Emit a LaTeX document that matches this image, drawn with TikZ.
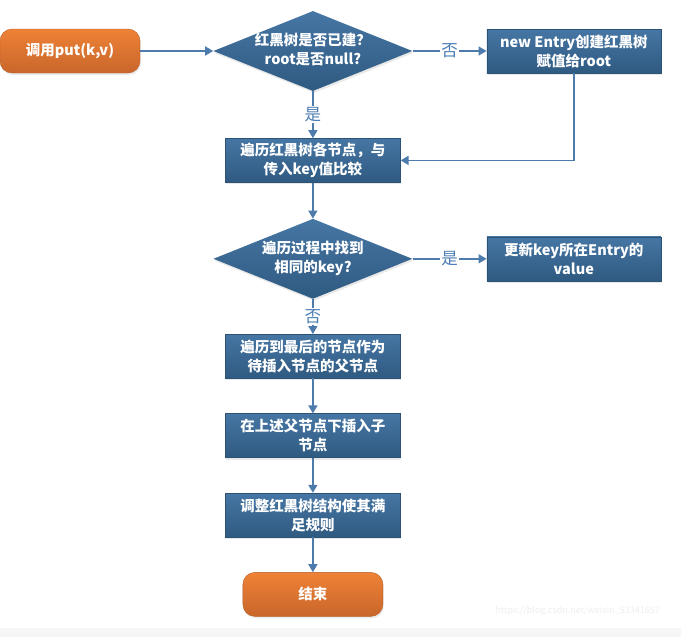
\documentclass[tikz,border=0pt]{standalone}
\usepackage{fontspec}
\setmainfont{Noto Sans CJK SC}
\usepackage{tikz}
\usetikzlibrary{arrows.meta,positioning,shapes.geometric,shadows}
\definecolor{boxtop}{HTML}{4676A4}
\definecolor{boxbot}{HTML}{2F5A81}
\definecolor{boxline}{HTML}{2C5276}
\definecolor{ortop}{HTML}{EE8236}
\definecolor{orbot}{HTML}{C9662B}
\definecolor{orline}{HTML}{B85C25}
\definecolor{flowline}{HTML}{4D7CAC}
\definecolor{labelblue}{HTML}{4A7DB4}
\definecolor{bandgray}{HTML}{F6F6F6}
\definecolor{markgray}{HTML}{EDEDED}
\newcommand{\dtext}[1]{\makebox[0pt]{\begin{tabular}{@{}c@{}}#1\end{tabular}}}
\tikzset{
  process/.style={
    rectangle,
    draw=boxline,
    thin,
    top color=boxtop,
    bottom color=boxbot,
    text=white,
    font=\fontsize{14.5}{19}\selectfont\bfseries,
    align=center,
    inner sep=0pt,
    minimum width=175pt,
    minimum height=44pt,
    drop shadow={opacity=0.18,shadow xshift=1pt,shadow yshift=-2pt}
  },
  decision/.style={
    diamond,
    draw=none,
    top color=boxtop,
    bottom color=boxbot,
    text=white,
    font=\fontsize{14.5}{19}\selectfont\bfseries,
    inner sep=0pt,
    shape aspect=2.5,
    minimum width=199pt,
    minimum height=80pt,
    drop shadow={opacity=0.18,shadow xshift=1pt,shadow yshift=-2pt}
  },
  terminal/.style={
    rectangle,
    rounded corners=12pt,
    draw=orline,
    thin,
    top color=ortop,
    bottom color=orbot,
    text=white,
    font=\fontsize{14.5}{19}\selectfont\bfseries,
    align=center,
    inner sep=0pt,
    minimum width=140pt,
    minimum height=44pt,
    drop shadow={opacity=0.15,shadow xshift=1pt,shadow yshift=-2pt}
  },
  flow/.style={-{Triangle[length=8pt,width=9pt]},line width=1.5pt,draw=flowline},
  answer/.style={fill=white,text=labelblue,inner sep=1pt,font=\fontsize{16.5}{18}\selectfont}
}

\begin{document}
\begin{tikzpicture}[x=1pt,y=-1pt]
    \useasboundingbox (0,0) rectangle (681,637);
    \fill[bandgray] (0,628) rectangle (681,637);

    \node[terminal] (start) at (70,51) {调用put(k,v)};
    \node[decision,right=73pt of start] (built) {\dtext{红黑树是否已建？\\root是否null?}};
    \node[process,right=74pt of built,minimum width=174pt] (create) {new Entry创建红黑树\\赋值给root};
    \node[process,below=47pt of built] (traverse) {遍历红黑树各节点，与\\传入key值比较};
    \node[decision,below=36pt of traverse] (found) {\dtext{遍历过程中找到\\相同的key?}};
    \node[process,right=74pt of found,minimum width=174pt] (update) {更新key所在Entry的\\value};
    \node[process,below=35pt of found] (parent) {遍历到最后的节点作为\\待插入节点的父节点};
    \node[process,below=35pt of parent] (insert) {在上述父节点下插入子\\节点};
    \node[process,below=35pt of insert] (fix) {调整红黑树结构使其满\\足规则};
    \node[terminal,below=35pt of fix] (finish) {结束};

    \draw[flow] (start) -- (built);
    \draw[flow] (built) -- node[answer] {否} (create);
    \draw[flow] (built) -- node[answer] {是} (traverse);
    \draw[flow] (create.south) |- (traverse.east);
    \draw[flow] (traverse) -- (found);
    \draw[flow] (found) -- node[answer] {是} (update);
    \draw[flow] (found) -- node[answer] {否} (parent);
    \draw[flow] (parent) -- (insert);
    \draw[flow] (insert) -- (fix);
    \draw[flow] (fix) -- (finish);

    \node[anchor=east,text=markgray,font=\fontsize{9}{10}\selectfont,inner sep=0pt] (mark) at (660,611) {https://blog.csdn.net/weixin\_53341657};
  \end{tikzpicture}
\end{document}
